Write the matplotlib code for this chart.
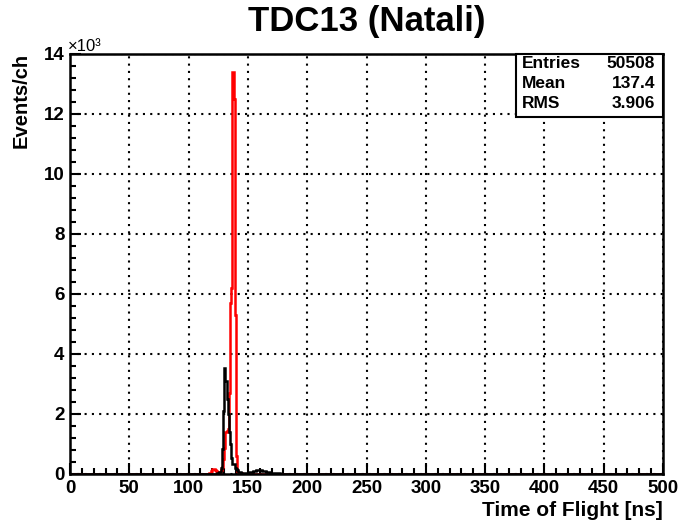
import matplotlib
matplotlib.use("Agg")
import matplotlib.pyplot as plt
import numpy as np
from matplotlib.patches import Rectangle
from matplotlib.ticker import MultipleLocator, FuncFormatter

plt.rcParams['font.family'] = ['Liberation Sans', 'DejaVu Sans']

# histogram binning: 1 ns per channel, 0..500 ns
bin_edges = np.arange(0, 501)

# red histogram (counts per ns channel), non-zero region starts at 116 ns
red_start = 116
red_counts = [10, 20, 40, 100, 160, 160, 140, 100, 50, 40,
              60, 120, 250, 500, 870, 1400, 1450, 1500, 2700, 5700,
              6200, 13400, 12500, 5300, 600, 100, 50, 30, 20, 10]

# black histogram, non-zero region starts at 124 ns
black_start = 124
black_counts = [20, 20, 60, 200, 830, 2100, 3550, 3100, 2500, 2000,
                1400, 1000, 550, 330, 330, 200, 170, 120, 80, 60,
                50, 40, 40, 40, 40, 50, 60, 60, 70, 80,
                90, 100, 110, 120, 120, 130, 130, 120, 110, 100,
                90, 80, 70, 60, 60, 50, 40, 40, 30, 30,
                20, 20, 20, 10, 10]

stats_labels = ["Entries", "Mean", "RMS"]
stats_values = ["50508", "137.4", "3.906"]

red = np.zeros(500)
red[red_start:red_start + len(red_counts)] = red_counts
black = np.zeros(500)
black[black_start:black_start + len(black_counts)] = black_counts

W, H = 681, 524
fig = plt.figure(figsize=(W / 100, H / 100), dpi=100)
ax = fig.add_axes([70 / W, 50 / H, 593 / W, 420 / H])

ax.stairs(red, bin_edges, color="red", linewidth=1.8)
ax.stairs(black, bin_edges, color="black", linewidth=1.8)

ax.set_xlim(0, 500)
ax.set_ylim(0, 14000)
ax.xaxis.set_major_locator(MultipleLocator(50))
ax.xaxis.set_minor_locator(MultipleLocator(10))
ax.yaxis.set_major_locator(MultipleLocator(2000))
ax.yaxis.set_minor_locator(MultipleLocator(400))
ax.yaxis.set_major_formatter(FuncFormatter(lambda v, p: "%d" % round(v / 1000)))

ax.tick_params(which="both", direction="in", top=False, right=False, width=1.5)
ax.tick_params(which="major", length=8, labelsize=13.5, pad=4)
ax.tick_params(which="minor", length=4)
for lab in ax.get_xticklabels() + ax.get_yticklabels():
    lab.set_fontweight("bold")
for s in ax.spines.values():
    s.set_linewidth(1.8)

ax.grid(True, which="major", color="black", linestyle=(0, (1, 2.5)), linewidth=1.5)
ax.set_axisbelow(True)

# titles / labels
fig.text(367 / W, 1 - 22 / H, "TDC13 (Natali)", ha="center", va="center",
         fontsize=25, fontweight="bold")
fig.text(663 / W, 1 - 510 / H, "Time of Flight [ns]", ha="right", va="center",
         fontsize=15, fontweight="bold")
fig.text(21 / W, 1 - 53 / H, "Events/ch", rotation=90, ha="center", va="top",
         fontsize=14.5, fontweight="bold")
fig.text(68 / W, 1 - 51 / H, "\u00d710\u00b3", ha="left", va="baseline", fontsize=12)

# stats box
box = Rectangle((516 / W, 1 - 117 / H), 147 / W, 63 / H, transform=fig.transFigure,
                facecolor="white", edgecolor="black", linewidth=1.5, zorder=5)
fig.patches.append(box)
for i, (k, v) in enumerate(zip(stats_labels, stats_values)):
    y = 1 - (64 + 19.5 * i) / H
    fig.text(522 / W, y, k, ha="left", va="center", fontsize=12.5, fontweight="bold", zorder=6)
    fig.text(655 / W, y, v, ha="right", va="center", fontsize=12.5, fontweight="bold", zorder=6)

fig.savefig("out.png", dpi=100)
